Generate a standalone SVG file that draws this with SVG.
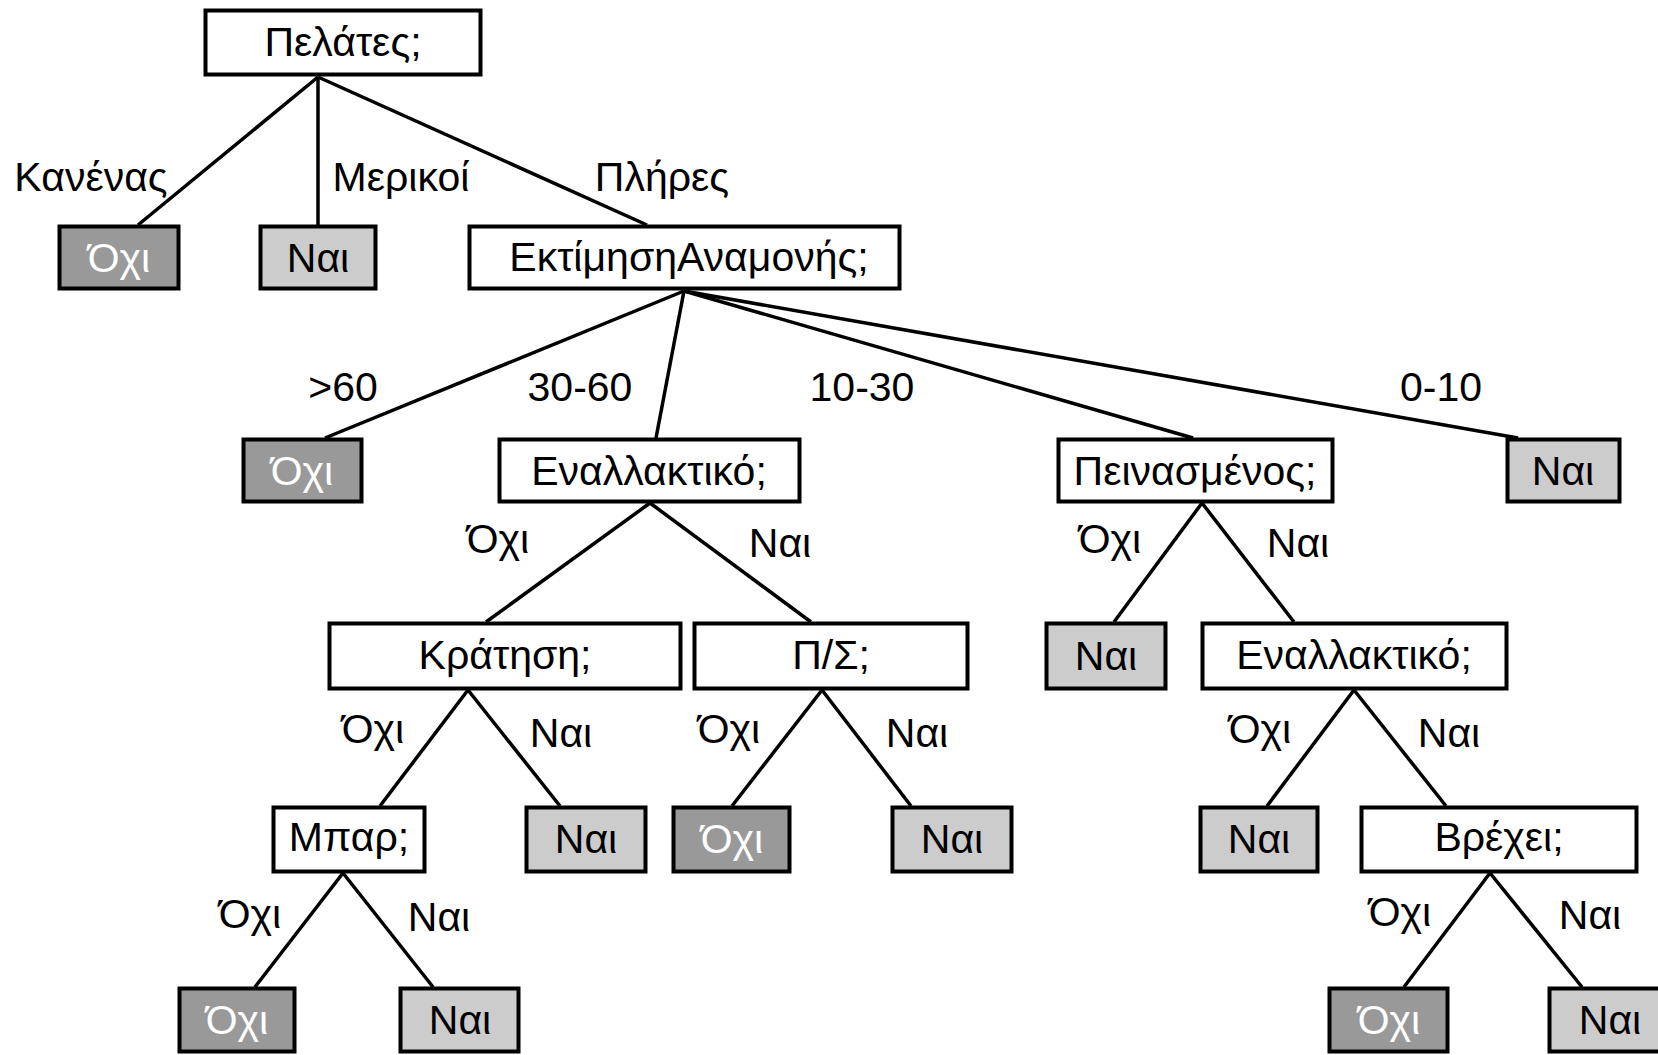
<svg xmlns="http://www.w3.org/2000/svg" width="1658" height="1055" viewBox="0 0 1658 1055">
<style>
  .box { stroke: #000; stroke-width: 4; fill: #fff; }
  .yes { fill: #cccccc; }
  .no { fill: #999999; }
  .t { font-family: "Liberation Sans", Arial, Helvetica, sans-serif; font-size: 41px; text-anchor: middle; fill: #000; }
  .tw { fill: #fff; }
  .edge { stroke: #000; stroke-width: 3.5; fill: none; stroke-linecap: butt; }
</style>
<rect width="1658" height="1055" fill="#fff"/>
<g id="connectors">
  <line class="edge" x1="318" y1="77" x2="138" y2="225"/>
  <line class="edge" x1="318" y1="77" x2="318" y2="225"/>
  <line class="edge" x1="318" y1="77" x2="647" y2="225"/>
  <line class="edge" x1="684" y1="291" x2="325" y2="438"/>
  <line class="edge" x1="684" y1="291" x2="656" y2="438"/>
  <line class="edge" x1="684" y1="291" x2="1193" y2="438"/>
  <line class="edge" x1="684" y1="291" x2="1518" y2="438"/>
  <line class="edge" x1="650" y1="503" x2="486" y2="622"/>
  <line class="edge" x1="650" y1="503" x2="811" y2="622"/>
  <line class="edge" x1="1202" y1="503" x2="1114" y2="622"/>
  <line class="edge" x1="1202" y1="503" x2="1294" y2="622"/>
  <line class="edge" x1="468" y1="690" x2="380" y2="806"/>
  <line class="edge" x1="468" y1="690" x2="560" y2="806"/>
  <line class="edge" x1="822" y1="690" x2="732" y2="806"/>
  <line class="edge" x1="822" y1="690" x2="911" y2="806"/>
  <line class="edge" x1="1354" y1="690" x2="1267" y2="806"/>
  <line class="edge" x1="1354" y1="690" x2="1446" y2="806"/>
  <line class="edge" x1="343" y1="873" x2="255" y2="987"/>
  <line class="edge" x1="343" y1="873" x2="433" y2="987"/>
  <line class="edge" x1="1490" y1="873" x2="1404" y2="987"/>
  <line class="edge" x1="1490" y1="873" x2="1582" y2="987"/>
</g>
<g id="edge-labels">
  <text class="t" x="91" y="191">Κανένας</text>
  <text class="t" x="401" y="191">Μερικοί</text>
  <text class="t" x="662" y="191">Πλήρες</text>
  <text class="t" x="343" y="401">&gt;60</text>
  <text class="t" x="580" y="401">30-60</text>
  <text class="t" x="862" y="401">10-30</text>
  <text class="t" x="1441" y="401">0-10</text>
  <text class="t" x="498" y="553">Όχι</text>
  <text class="t" x="780" y="557">Ναι</text>
  <text class="t" x="1110" y="553">Όχι</text>
  <text class="t" x="1298" y="557">Ναι</text>
  <text class="t" x="373" y="743">Όχι</text>
  <text class="t" x="561" y="747">Ναι</text>
  <text class="t" x="729" y="743">Όχι</text>
  <text class="t" x="917" y="747">Ναι</text>
  <text class="t" x="1260" y="743">Όχι</text>
  <text class="t" x="1449" y="747">Ναι</text>
  <text class="t" x="250" y="928">Όχι</text>
  <text class="t" x="439" y="931">Ναι</text>
  <text class="t" x="1400" y="926">Όχι</text>
  <text class="t" x="1590" y="929">Ναι</text>
</g>
<g id="n-pelates"><rect class="box" x="205.5" y="10.5" width="275" height="64"/><text class="t" x="343" y="56">Πελάτες;</text></g>
<g id="n-kanenas-oxi"><rect class="box no" x="59.5" y="226.5" width="119" height="62"/><text class="t tw" x="119" y="272">Όχι</text></g>
<g id="n-merikoi-nai"><rect class="box yes" x="260.5" y="226.5" width="115" height="62"/><text class="t" x="318" y="272">Ναι</text></g>
<g id="n-ektimisi"><rect class="box" x="469.5" y="226.5" width="430" height="62"/><text class="t" x="689" y="271">ΕκτίμησηΑναμονής;</text></g>
<g id="n-60-oxi"><rect class="box no" x="243.5" y="439.5" width="118" height="62"/><text class="t tw" x="302" y="485">Όχι</text></g>
<g id="n-enallaktiko1"><rect class="box" x="499.5" y="439.5" width="300" height="62"/><text class="t" x="649" y="485">Εναλλακτικό;</text></g>
<g id="n-peinasmenos"><rect class="box" x="1058.5" y="439.5" width="274" height="62"/><text class="t" x="1195" y="485">Πεινασμένος;</text></g>
<g id="n-010-nai"><rect class="box yes" x="1507.5" y="439.5" width="112" height="62"/><text class="t" x="1563" y="485">Ναι</text></g>
<g id="n-kratisi"><rect class="box" x="329.5" y="623.5" width="351" height="65"/><text class="t" x="505" y="669">Κράτηση;</text></g>
<g id="n-ps"><rect class="box" x="694.5" y="623.5" width="273" height="65"/><text class="t" x="831" y="669">Π/Σ;</text></g>
<g id="n-pein-nai"><rect class="box yes" x="1046.5" y="623.5" width="119" height="65"/><text class="t" x="1106" y="670">Ναι</text></g>
<g id="n-enallaktiko2"><rect class="box" x="1202.5" y="623.5" width="304" height="65"/><text class="t" x="1354" y="669">Εναλλακτικό;</text></g>
<g id="n-mpar"><rect class="box" x="273.5" y="807.5" width="151" height="64"/><text class="t" x="349" y="851">Μπαρ;</text></g>
<g id="n-krat-nai"><rect class="box yes" x="526.5" y="807.5" width="119" height="64"/><text class="t" x="586" y="853">Ναι</text></g>
<g id="n-ps-oxi"><rect class="box no" x="673.5" y="807.5" width="116" height="64"/><text class="t tw" x="732" y="853">Όχι</text></g>
<g id="n-ps-nai"><rect class="box yes" x="892.5" y="807.5" width="119" height="64"/><text class="t" x="952" y="853">Ναι</text></g>
<g id="n-en2-nai"><rect class="box yes" x="1200.5" y="807.5" width="117" height="64"/><text class="t" x="1259" y="853">Ναι</text></g>
<g id="n-vrexei"><rect class="box" x="1361.5" y="807.5" width="275" height="64"/><text class="t" x="1499" y="851">Βρέχει;</text></g>
<g id="n-mpar-oxi"><rect class="box no" x="179.5" y="988.5" width="115" height="63"/><text class="t tw" x="237" y="1034">Όχι</text></g>
<g id="n-mpar-nai"><rect class="box yes" x="400.5" y="988.5" width="118" height="63"/><text class="t" x="460" y="1034">Ναι</text></g>
<g id="n-vr-oxi"><rect class="box no" x="1329.5" y="988.5" width="118" height="63"/><text class="t tw" x="1389" y="1034">Όχι</text></g>
<g id="n-vr-nai"><rect class="box yes" x="1549.5" y="988.5" width="120" height="63"/><text class="t" x="1610" y="1034">Ναι</text></g>
</svg>
